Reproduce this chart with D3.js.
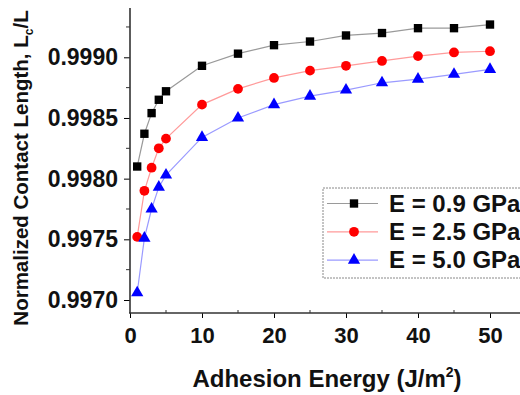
<!DOCTYPE html>
<html>
<head>
<meta charset="utf-8">
<script src="https://cdn.jsdelivr.net/npm/d3@7"></script>
<style>
  body { margin: 0; background: #fff; }
  text { font-family: "Liberation Sans", Arial, sans-serif; font-weight: bold; }
</style>
</head>
<body>
<svg id="chart"></svg>
<script>
const energy = [1, 2, 3, 4, 5, 10, 15, 20, 25, 30, 35, 40, 45, 50];
const e09 = [0.99810, 0.99837, 0.99854, 0.99865, 0.99872, 0.99893, 0.99903, 0.99910, 0.99913, 0.99918, 0.99920, 0.99924, 0.99924, 0.99927];
const e25 = [0.99752, 0.99790, 0.99809, 0.99825, 0.99833, 0.99861, 0.99874, 0.99883, 0.99889, 0.99893, 0.99897, 0.99901, 0.99904, 0.99905];
const e50 = [0.99706, 0.99751, 0.99775, 0.99793, 0.99803, 0.99834, 0.99850, 0.99861, 0.99868, 0.99873, 0.99879, 0.99882, 0.99886, 0.99890];
const seriesLabels = ["E = 0.9 GPa", "E = 2.5 GPa", "E = 5.0 GPa"];
const yTicks = [0.9970, 0.9975, 0.9980, 0.9985, 0.9990];
const xTicks = [0, 10, 20, 30, 40, 50];

const width = 520, height = 395;
const svg = d3.select("#chart").attr("width", width).attr("height", height);

const x = d3.scaleLinear().domain([0, 55]).range([130, 526]);
const y = d3.scaleLinear().domain([0.9970, 0.9990]).range([300, 57.3]);
const plotBottom = 313, plotTop = 8;

const series = [
  { name: seriesLabels[0], values: e09, color: "#000", line: "#9a9a9a", shape: d3.symbolSquare, size: 70 },
  { name: seriesLabels[1], values: e25, color: "#ff0000", line: "#ff9a9a", shape: d3.symbolCircle, size: 75 },
  { name: seriesLabels[2], values: e50, color: "#0000ff", line: "#9a9aff", shape: d3.symbolTriangle, size: 65 }
];

// axes
const yAxis = d3.axisLeft(y).tickValues(yTicks).tickFormat(d3.format(".4f")).tickSize(6).tickPadding(6);
const gy = svg.append("g").attr("transform", "translate(130,0)").call(yAxis);
gy.select(".domain").remove();
gy.selectAll("text").attr("font-size", 23).attr("fill", "#111");
svg.append("line").attr("x1", 130).attr("x2", 130).attr("y1", plotTop).attr("y2", plotBottom)
  .attr("stroke", "#333").attr("stroke-width", 1.6);
// minor y ticks
const yMinor = d3.range(0.99725, 0.9994, 0.0005);
svg.append("g").selectAll("line").data(yMinor).join("line")
  .attr("x1", 126).attr("x2", 130).attr("y1", d => y(d)).attr("y2", d => y(d))
  .attr("stroke", "#333");

const xAxis = d3.axisBottom(x).tickValues(xTicks).tickSize(5).tickPadding(9);
const gx = svg.append("g").attr("transform", `translate(0,${plotBottom})`).call(xAxis);
gx.select(".domain").remove();
gx.selectAll("text").attr("font-size", 22).attr("fill", "#111");
svg.append("line").attr("x1", 129).attr("x2", width).attr("y1", plotBottom).attr("y2", plotBottom)
  .attr("stroke", "#333").attr("stroke-width", 1.6);
svg.append("g").selectAll("line").data([5, 15, 25, 35, 45]).join("line")
  .attr("x1", d => x(d)).attr("x2", d => x(d)).attr("y1", plotBottom - 3).attr("y2", plotBottom)
  .attr("stroke", "#333");

// axis titles
const xt = svg.append("text").attr("x", 327).attr("y", 387).attr("text-anchor", "middle")
  .attr("font-size", 24).attr("fill", "#111");
xt.append("tspan").text("Adhesion Energy (J/m");
xt.append("tspan").attr("font-size", 14).attr("dy", -10).text("2");
xt.append("tspan").attr("dy", 10).text(")");

const yt = svg.append("text").attr("transform", "translate(28,168) rotate(-90)")
  .attr("text-anchor", "middle").attr("font-size", 20.5).attr("fill", "#111");
yt.append("tspan").text("Normalized Contact Length, L");
yt.append("tspan").attr("font-size", 12).attr("dy", 5).text("c");
yt.append("tspan").attr("dy", -5).text("/L");

// series
const line = d3.line().x((d, i) => x(energy[i])).y(d => y(d));
series.forEach(s => {
  svg.append("path").datum(s.values).attr("d", line)
    .attr("fill", "none").attr("stroke", s.line).attr("stroke-width", 1.2);
  svg.append("g").selectAll("path").data(s.values).join("path")
    .attr("transform", (d, i) => `translate(${x(energy[i])},${y(d)})`)
    .attr("d", d3.symbol().type(s.shape).size(s.size))
    .attr("fill", s.color);
});

// legend
const lg = svg.append("g");
lg.append("rect").attr("x", 323).attr("y", 188).attr("width", 210).attr("height", 90)
  .attr("fill", "#fff").attr("stroke", "#888").attr("stroke-dasharray", "2,1");
series.forEach((s, i) => {
  const cy = 203.5 + i * 28.3;
  lg.append("line").attr("x1", 327).attr("x2", 378).attr("y1", cy).attr("y2", cy)
    .attr("stroke", s.line).attr("stroke-width", 1.2);
  lg.append("path").attr("transform", `translate(354,${cy})`)
    .attr("d", d3.symbol().type(s.shape).size(s.size)).attr("fill", s.color);
  lg.append("text").attr("x", 389).attr("y", cy + 8.3).attr("font-size", 24).attr("fill", "#111").text(s.name);
});
</script>
</body>
</html>
